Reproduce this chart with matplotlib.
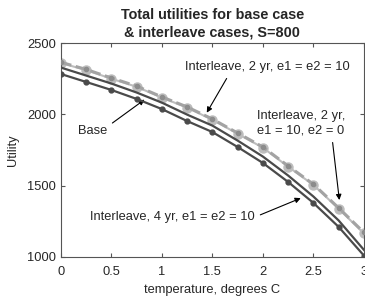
import matplotlib
matplotlib.use("Agg")
import matplotlib.pyplot as plt

plt.rcParams["font.family"] = ["Liberation Sans", "DejaVu Sans"]

temps = [0, 0.25, 0.5, 0.75, 1.0, 1.25, 1.5, 1.75, 2.0, 2.25, 2.5, 2.75, 3.0]
base = [2328, 2272, 2216, 2153, 2082, 1998, 1921, 1816, 1704, 1571, 1424, 1256, 1050]
inter4 = [2283, 2227, 2171, 2108, 2037, 1953, 1876, 1771, 1659, 1526, 1379, 1211, 1010]
inter2 = [2365, 2315, 2255, 2198, 2122, 2052, 1967, 1869, 1771, 1638, 1510, 1344, 1172]
inter2_e0 = [2360, 2310, 2250, 2193, 2117, 2047, 1962, 1864, 1766, 1633, 1505, 1338, 1165]

xticks = [0, 0.5, 1, 1.5, 2, 2.5, 3]
xticklabels = ["0", "0.5", "1", "1.5", "2", "2.5", "3"]
yticks = [1000, 1500, 2000, 2500]

txt = "#262626"
fig = plt.figure(figsize=(3.65, 2.99), dpi=100)
ax = fig.add_axes([0.167, 0.1405, 0.83, 0.7155])

ax.plot(temps, inter2_e0, color="#bdbdbd", lw=1.5, marker="o", ms=6.5,
        markeredgecolor="#bdbdbd", zorder=2)
ax.plot(temps, inter2, color="#a3a3a3", lw=2.2, ls=(0, (3.5, 1.5)), marker="o", ms=3,
        markerfacecolor="#8c8c8c", markeredgecolor="#8c8c8c", zorder=3)
ax.plot(temps, base, color="#4a4a4a", lw=1.6, zorder=4)
ax.plot(temps, inter4, color="#4a4a4a", lw=1.6, marker="o", ms=3.5, zorder=4)

ax.set_xlim(0, 3)
ax.set_ylim(1000, 2500)
ax.set_xticks(xticks)
ax.set_xticklabels(xticklabels)
ax.set_yticks(yticks)
ax.tick_params(direction="in", top=True, right=True, length=3, labelsize=9.3,
               colors="#555555", labelcolor=txt)
ax.tick_params(axis="x", pad=6.5)
ax.tick_params(axis="y", pad=3.5)
for s in ax.spines.values():
    s.set_color("#555555")
    s.set_linewidth(0.8)

ax.set_xlabel("temperature, degrees C", fontsize=9.3, color=txt, labelpad=4)
ax.set_ylabel("Utility", fontsize=9.3, color=txt, labelpad=6)
ax.set_title("Total utilities for base case\n& interleave cases, S=800",
             fontsize=10.4, fontweight="bold", color=txt, pad=5, linespacing=1.3)

arrow = dict(arrowstyle="-|>", color="black", lw=0.8, mutation_scale=8)
ax.annotate("Interleave, 2 yr, e1 = e2 = 10", xy=(1.43, 1995), xytext=(1.23, 2330),
            fontsize=9.3, color=txt, ha="left", va="center",
            arrowprops=dict(arrow, relpos=(0.27, 0)))
ax.annotate("Base", xy=(0.85, 2115), xytext=(0.17, 1880),
            fontsize=9.3, color=txt, ha="left", va="center",
            arrowprops=dict(arrow, relpos=(1, 0.9)))
ax.annotate("Interleave, 2 yr,\ne1 = 10, e2 = 0", xy=(2.76, 1380), xytext=(1.94, 1935),
            fontsize=9.3, color=txt, ha="left", va="center", linespacing=1.3,
            arrowprops=dict(arrow, relpos=(0.85, 0)))
ax.annotate("Interleave, 4 yr, e1 = e2 = 10", xy=(2.40, 1420), xytext=(0.29, 1280),
            fontsize=9.3, color=txt, ha="left", va="center",
            arrowprops=dict(arrow, relpos=(1, 0.5)))

fig.savefig("out.png", dpi=100)
